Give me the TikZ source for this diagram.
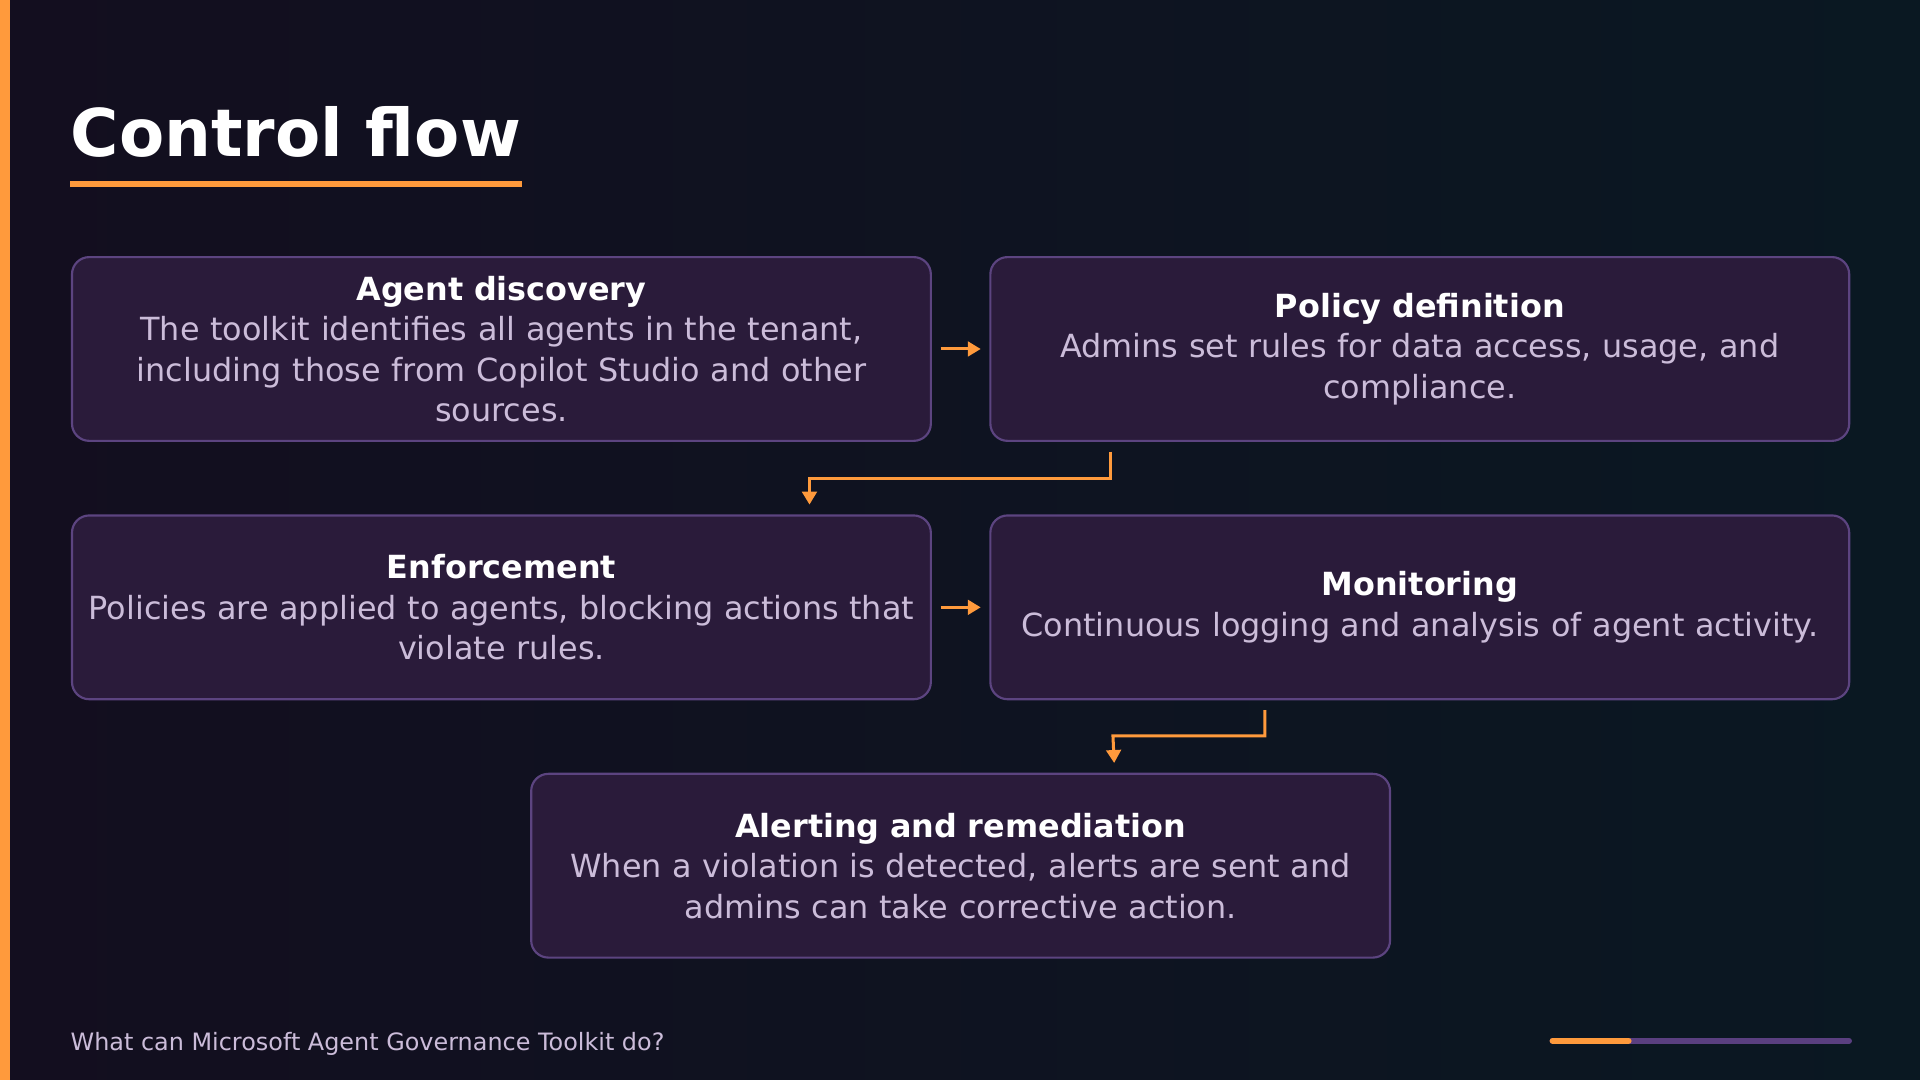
\documentclass[tikz,border=0pt]{standalone}
\usepackage{fontspec}
\setmainfont{DejaVu Sans}
\usetikzlibrary{calc,arrows.meta}
\definecolor{bgA}{HTML}{130E1F}
\definecolor{bgB}{HTML}{0A1822}
\definecolor{accent}{HTML}{FF9A3C}
\definecolor{boxfill}{HTML}{2A1B3A}
\definecolor{boxline}{HTML}{5C4480}
\definecolor{bodytext}{HTML}{CBBCD9}
\definecolor{barpurple}{HTML}{5A3F80}
\begin{document}
\begin{tikzpicture}[x=0.01cm,y=-0.01cm,
  stepbox/.style={draw=boxline,fill=boxfill,rounded corners=4pt,line width=0.5pt,
    inner sep=0pt,minimum width=7.01cm,minimum height=1.50cm,text width=6.9cm,align=center,
    font=\fontsize{7.4}{9.4}\selectfont,text=bodytext},
  flow/.style={draw=accent,line width=0.7pt,-{Triangle[length=3pt,width=3.4pt]}}]
\shade[left color=bgA,right color=bgB] (0,0) rectangle (1568,882);
\useasboundingbox (0,0) rectangle (1568,882);
\fill[accent] (0,0) rectangle (8,882);

\node[anchor=base west,text=white,font=\fontsize{15.3}{17}\bfseries\selectfont,inner sep=0] (title) at (57,128) {Control flow};
\fill[accent] (57,148) rectangle (426,153);

\node[stepbox] (disc) at (409.5,285) {{\color{white}\bfseries Agent discovery}\\The toolkit identifies all agents in the tenant,\\including those from Copilot Studio and other\\sources.};
\node[stepbox] (policy) at (1159.5,285) {{\color{white}\bfseries Policy definition}\\Admins set rules for data access, usage, and\\compliance.};
\node[stepbox] (enf) at (409.5,496) {{\color{white}\bfseries Enforcement}\\Policies are applied to agents, blocking actions that\\violate rules.};
\node[stepbox] (mon) at (1159.5,496) {{\color{white}\bfseries Monitoring}\\Continuous logging and analysis of agent activity.};
\node[stepbox] (alert) at (784.5,707) {{\color{white}\bfseries Alerting and remediation}\\When a violation is detected, alerts are sent and\\admins can take corrective action.};

\draw[flow] ($(disc.east)+(7,0)$) -- ($(policy.west)+(-7,0)$);
\draw[flow] ($(enf.east)+(7,0)$) -- ($(mon.west)+(-7,0)$);
\draw[flow] ($(policy.south west)+(99,8)$) |- ($(policy.south west)!0.5!(enf.north east)$) -| ($(enf.north east)+(-100,-8)$);
\draw[flow] ($(mon.south west)+(225,8)$) |- ($(mon.south west)+(101,29)$) -- ($(alert.north west)+(477,-8)$);

\node[anchor=base west,text=bodytext,font=\fontsize{5.55}{6}\selectfont,inner sep=0] (foot) at (57,858) {What can Microsoft Agent Governance Toolkit do?};
\draw[barpurple,line width=1.4pt,line cap=round] (1268,850) -- (1510,850);
\draw[accent,line width=1.4pt,line cap=round] (1268,850) -- (1330,850);
\end{tikzpicture}
\end{document}
